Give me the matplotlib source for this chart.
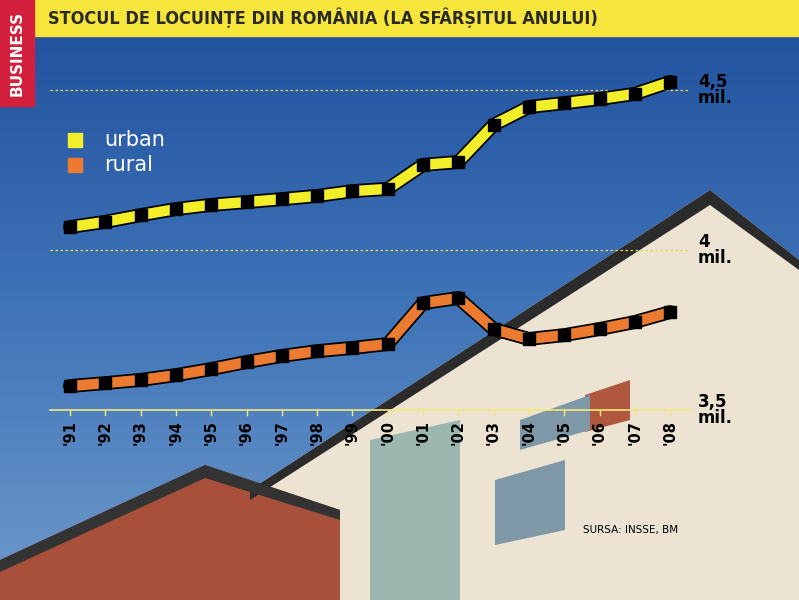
import matplotlib
matplotlib.use("Agg")
import matplotlib.pyplot as plt
import matplotlib.patheffects as pe
import numpy as np
from matplotlib.patches import Polygon, Rectangle
from matplotlib.colors import LinearSegmentedColormap

years = ["'91","'92","'93","'94","'95","'96","'97","'98","'99","'00","'01","'02","'03","'04","'05","'06","'07","'08"]
urban = [4.072,4.088,4.109,4.128,4.141,4.150,4.159,4.169,4.184,4.191,4.266,4.275,4.391,4.447,4.459,4.472,4.488,4.525]
rural = [3.575,3.584,3.594,3.609,3.628,3.650,3.669,3.684,3.694,3.706,3.834,3.850,3.753,3.722,3.734,3.753,3.775,3.806]
ylabels = ["3,5\nmil.", "4\nmil.", "4,5\nmil."]
yvals = [3.5, 4.0, 4.5]

W, H = 799, 600
fig = plt.figure(figsize=(7.99, 6.0), dpi=100)
ax = fig.add_axes([0, 0, 1, 1])
step = 35.3
x0 = 70
def px2x(p): return (p - x0) / step
def py2y(p): return 3.5 + (410 - p) / 320
ax.set_xlim(px2x(0), px2x(W))
ax.set_ylim(py2y(H), py2y(0))
ax.axis("off")

grad = np.linspace(0, 1, 256).reshape(-1, 1)
cmap = LinearSegmentedColormap.from_list("sky", ["#1f4f9c", "#3f73b8", "#6e9acb"])
ax.imshow(grad, extent=[px2x(0), px2x(W), py2y(H), py2y(0)], aspect="auto", cmap=cmap, zorder=0)

def poly(pts, color, z=1):
    ax.add_patch(Polygon([(px2x(a), py2y(b)) for a, b in pts], closed=True, color=color, zorder=z, lw=0))

poly([(250,600),(250,490),(710,190),(799,260),(799,600)], "#ece3d2")
poly([(710,190),(799,260),(799,270),(710,205),(250,500),(250,490)], "#2b2b2b", 2)
poly([(0,600),(0,560),(205,465),(340,510),(340,600)], "#a8503a")
poly([(0,560),(205,465),(340,510),(340,520),(205,478),(0,572)], "#333333", 2)
poly([(585,395),(630,380),(630,420),(585,432)], "#b0583f", 2)
poly([(370,600),(370,440),(460,420),(460,600)], "#9cb7b0", 2)
poly([(520,420),(590,395),(590,430),(520,450)], "#7f98a8", 2)
poly([(495,480),(565,460),(565,530),(495,545)], "#7f98a8", 2)

ax.add_patch(Rectangle((px2x(0), py2y(36)), px2x(W)-px2x(0), py2y(0)-py2y(36), color="#f6e63c", zorder=5))
fig.text(48/W, 1-18/H, "STOCUL DE LOCUINȚE DIN ROMÂNIA (LA SFÂRȘITUL ANULUI)",
         fontsize=13, fontweight="bold", color="#2a2a2a", va="center", ha="left", zorder=7,
         fontstretch="condensed")
ax.add_patch(Rectangle((px2x(0), py2y(106)), px2x(34)-px2x(0), py2y(0)-py2y(106), color="#d21f3c", zorder=6))
fig.text(17/W, 1-53/H, "BUSINESS", rotation=90, fontsize=11, fontweight="bold", color="white",
         ha="center", va="center", zorder=8)

x = np.arange(len(years))
for v in yvals[1:]:
    ax.plot([px2x(50), px2x(690)], [v, v], ls=(0, (2, 2)), color="#e8d94a", lw=0.9, zorder=3)
ax.plot([px2x(50), px2x(690)], [3.5, 3.5], color="#f2e87a", lw=1.2, zorder=3)
for i in range(len(years)):
    ax.plot([x[i]]*2, [3.5, py2y(415)], color="#f2e87a", lw=1, zorder=3)
    ax.text(x[i], py2y(420), years[i], rotation=90, ha="center", va="top",
            fontsize=10.5, fontweight="bold", color="black", zorder=4)
for v, l in zip(yvals, ylabels):
    ax.text(px2x(698), v, l, ha="left", va="center", fontsize=12, fontweight="bold",
            color="black", linespacing=0.9, zorder=4)

for data, col in [(urban, "#f3ee2a"), (rural, "#ec7a30")]:
    ax.plot(x, data, color=col, lw=7.5, solid_capstyle="round", solid_joinstyle="round", zorder=4,
            path_effects=[pe.Stroke(linewidth=10, foreground="black"), pe.Normal()])
    ax.plot(x, data, ls="none", marker="s", ms=8, color="black", zorder=5)

for py, col, lab in [(140, "#f3ee2a", "urban"), (165, "#ec7a30", "rural")]:
    ax.plot(px2x(75), py2y(py), marker="s", ms=10, color=col, zorder=5)
    ax.text(px2x(104), py2y(py), lab, fontsize=15, color="white", va="center", zorder=5)

ax.text(px2x(678), py2y(530), "SURSA: INSSE, BM", fontsize=7.5, ha="right", va="center", color="black", zorder=5)

fig.savefig("out.png", dpi=100)
